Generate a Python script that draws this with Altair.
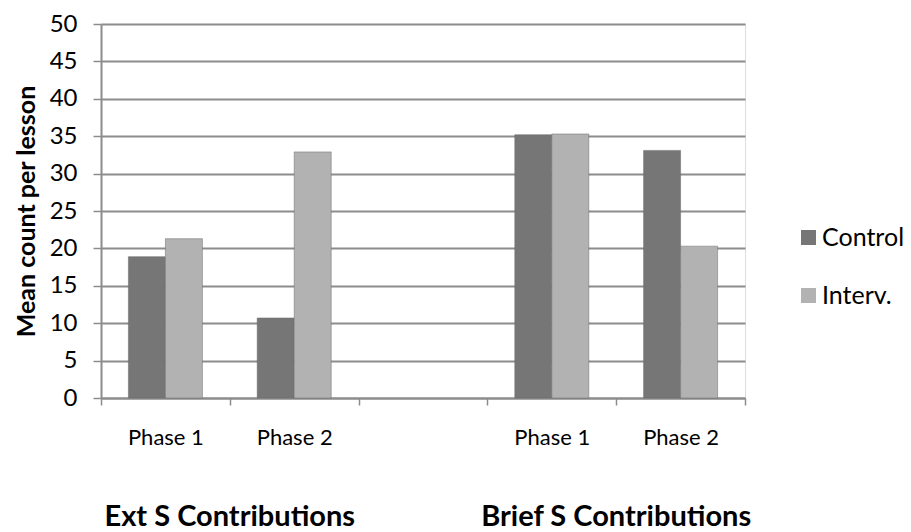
import altair as alt
import pandas as pd

cats = ["A1", "A2", "gap", "B1", "B2"]
series = ["Control", "Interv."]
control = [18.9, 10.7, None, 35.2, 33.1]
interv = [21.3, 32.9, None, 35.3, 20.3]
group_names = ["Ext S Contributions", "Brief S Contributions"]
group_at = ["A2", "B2"]

rows = []
for c, a, b in zip(cats, control, interv):
    if a is not None:
        rows.append({"cat": c, "series": "Control", "value": a})
        rows.append({"cat": c, "series": "Interv.", "value": b})
df = pd.DataFrame(rows)
gdf = pd.DataFrame({"cat": group_at, "name": group_names})

W, H = 644, 374
FONT = "Lato"

label_expr = ("datum.value == 'A1' || datum.value == 'B1' ? 'Phase 1' : "
              "(datum.value == 'A2' || datum.value == 'B2' ? 'Phase 2' : '')")

xscale = alt.Scale(domain=cats, paddingInner=0, paddingOuter=0)

bars = alt.Chart(df).mark_bar(stroke="#6a6a6a", strokeWidth=0.5).encode(
    x=alt.X("cat:N", scale=xscale, sort=cats, title=None,
            axis=alt.Axis(labelExpr=label_expr, labelAngle=0, tickBand="extent",
                          tickSize=7, tickColor="#8c8c8c", tickWidth=1.5,
                          domainColor="#8c8c8c", domainWidth=2,
                          labelFont=FONT, labelFontSize=22, labelColor="#000",
                          labelPadding=22, grid=False)),
    xOffset=alt.XOffset("series:N", sort=series,
                        scale=alt.Scale(paddingInner=0, paddingOuter=0.74)),
    y=alt.Y("value:Q", scale=alt.Scale(domain=[0, 50]),
            title="Mean count per lesson",
            axis=alt.Axis(values=list(range(0, 55, 5)), tickSize=8,
                          tickColor="#8c8c8c", tickWidth=1.5,
                          domainColor="#8c8c8c", domainWidth=2,
                          gridColor="#8c8c8c", gridWidth=2,
                          labelFont=FONT, labelFontSize=24, labelColor="#000",
                          labelPadding=16,
                          titleFont=FONT, titleFontSize=25, titleFontWeight="bold",
                          titleColor="#000", titlePadding=10)),
    color=alt.Color("series:N", sort=series,
                    scale=alt.Scale(domain=series, range=["#767676", "#b2b2b2"]),
                    legend=alt.Legend(title=None, orient="none", legendX=695, legendY=201,
                                      symbolType="square", symbolSize=225,
                                      symbolStrokeWidth=0, rowPadding=32,
                                      labelFont=FONT, labelFontSize=25,
                                      labelColor="#000", labelOffset=1)),
)

groups = alt.Chart(gdf).mark_text(font=FONT, fontSize=29, fontWeight="bold",
                                  color="#000", baseline="middle").encode(
    x=alt.X("cat:N", scale=xscale, sort=cats, bandPosition=0),
    y=alt.value(H + 119),
    text="name:N",
)

chart = alt.layer(bars, groups).properties(
    width=W, height=H, autosize=alt.AutoSizeParams(type="none"),
    padding={"left": 93, "top": 16, "right": 158, "bottom": 134}
).configure_view(stroke=None).configure(font=FONT)

chart.save("out.html", embed_options={"renderer": "svg", "actions": False})
